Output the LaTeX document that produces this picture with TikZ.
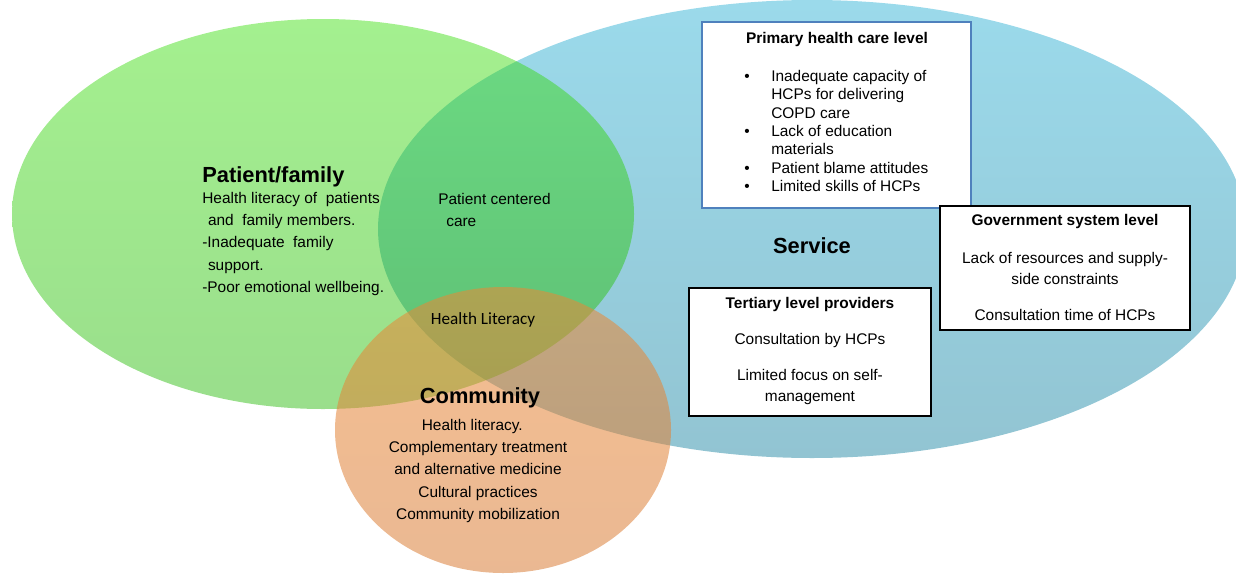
\documentclass[tikz,border=0pt]{standalone}
\usepackage{fontspec}
\setmainfont{Liberation Sans}
\newfontfamily\calibrifont{Carlito}
\usetikzlibrary{positioning}

% set colours
\definecolor{servicetop}{RGB}{155,218,235}
\definecolor{servicebot}{RGB}{146,196,210}
\definecolor{patienttop}{RGB}{53,222,6}
\definecolor{patientbot}{RGB}{30,182,0}
\definecolor{communitytop}{RGB}{235,137,53}
\definecolor{communitybot}{RGB}{217,126,57}
\definecolor{boxblue}{RGB}{79,129,189}

\newcommand\hcpitem{\makebox[18.9pt][l]{\textbullet}}
\newcommand\hcpcont{\hspace*{18.9pt}}

\tikzset{
  set label/.style={font=\bfseries\fontsize{15.3}{18}\selectfont,inner sep=0pt},
  set text/.style={font=\fontsize{10.8}{15.7}\selectfont,inner sep=0pt},
  level box/.style={draw,fill=white,line width=1.7pt,inner sep=0pt},
  box title/.style={font=\bfseries\fontsize{10.8}{13}\selectfont,inner sep=0pt},
  box text/.style={font=\fontsize{10.8}{14.7}\selectfont,align=center,inner sep=0pt}
}

\begin{document}
\begin{tikzpicture}[x=0.7pt,y=-0.7pt]
  \useasboundingbox (0,0) rectangle (1236,573);

  % the three sets
  \path[top color=servicetop,bottom color=servicebot]
    (812,229) ellipse [x radius=434,y radius=229];
  \path[top color=patienttop,bottom color=patientbot,fill opacity=0.45]
    (323,214) ellipse [x radius=311,y radius=195];
  \path[top color=communitytop,bottom color=communitybot,fill opacity=0.55]
    (503,430) ellipse [x radius=168,y radius=143];

  % patient/family
  \node[set label,anchor=west] (patient) at (202,177) {Patient/family};
  \node[set text,anchor=west,align=left] (patienttext) at (202,244)
    {Health literacy of\ \ patients\\
     \hspace*{4pt}and\ \ family members.\\
     -Inadequate\ \ family\\
     \hspace*{4pt}support.\\
     -Poor emotional wellbeing.};
  \node[set text,anchor=west,align=left] (centered) at (438,210)
    {Patient centered\\\hspace*{5.6pt}care};
  \node[inner sep=0pt,font=\calibrifont\fontsize{12}{14}\selectfont]
    (literacy) at (483,320) {Health Literacy};

  % community
  \node[set label] (community) at (480,398) {Community};
  \node[set text,align=center] (communitytext) at (478,471)
    {Health literacy.\hspace*{8pt}\\
     Complementary treatment\\
     and alternative medicine\\
     Cultural practices\hspace*{16pt}\\
     Community mobilization};

  % service
  \node[set label] (service) at (812,246) {Service};

  \node[level box,draw=boxblue,line width=1.4pt,minimum width=188.3pt,
    minimum height=130.2pt] (primary) at (836.5,115) {};
  \node[box title] (primarytitle) at (837,40) {Primary health care level};
  \node[set text,font=\fontsize{10.8}{12.8}\selectfont,align=left,anchor=west]
    (primarylist) at (744,131)
    {\hcpitem Inadequate capacity of\\
     \hcpcont HCPs for delivering\\
     \hcpcont COPD care\\
     \hcpitem Lack of education\\
     \hcpcont materials\\
     \hcpitem Patient blame attitudes\\
     \hcpitem Limited skills of HCPs};

  \node[level box,minimum width=175pt,minimum height=86.8pt]
    (government) at (1065,268) {};
  \node[box title] (governmenttitle) at (1065,222) {Government system level};
  \node[box text] (resources) at (1065,268.5)
    {Lack of resources and supply-\\side constraints};
  \node[box text] (consulttime) at (1065,315) {Consultation time of HCPs};

  \node[level box,minimum width=169.4pt,minimum height=89.6pt]
    (tertiary) at (810,352) {};
  \node[box title] (tertiarytitle) at (810,305) {Tertiary level providers};
  \node[box text] (consultation) at (810,341) {Consultation by HCPs};
  \node[box text] (selfmanage) at (810,387.5)
    {Limited focus on self-\\management};
\end{tikzpicture}
\end{document}
